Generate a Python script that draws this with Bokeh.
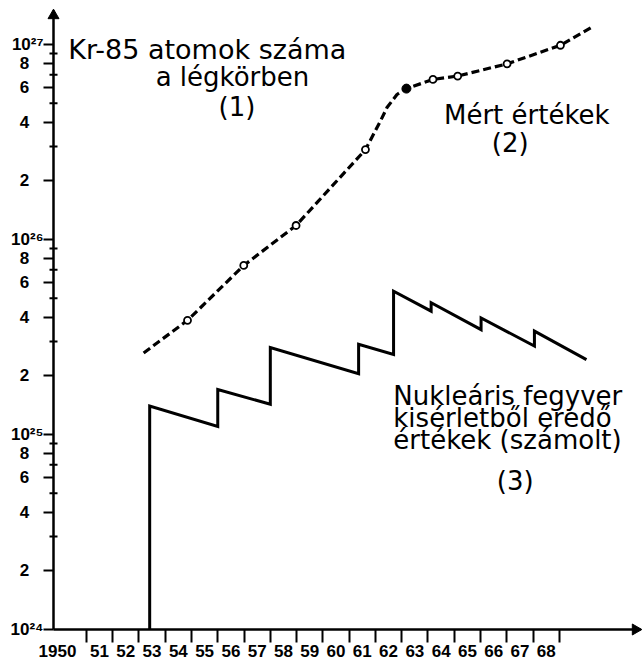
import math
from bokeh.plotting import figure
from bokeh.models import FixedTicker, Range1d, Label
from bokeh.embed import file_html
from bokeh.resources import INLINE

# ---- data ----
# calculated values from nuclear weapon tests (sawtooth)
sawtooth_years = [1953.41, 1953.41, 1956.0, 1956.0, 1958.0, 1958.0, 1961.36, 1961.36,
                  1962.69, 1962.69, 1964.12, 1964.12, 1966.02, 1966.02, 1968.05, 1968.05, 1970.03]
sawtooth_values = [1e24, 1.40e25, 1.10e25, 1.70e25, 1.43e25, 2.79e25, 2.05e25, 2.90e25,
                   2.57e25, 5.43e25, 4.29e25, 4.74e25, 3.45e25, 3.96e25, 2.84e25, 3.39e25, 2.42e25]

# measured values (dashed curve)
measured_curve_years = [1953.18, 1954.85, 1956.99, 1958.98, 1961.62, 1962.19, 1962.44, 1962.82,
                        1963.18, 1964.19, 1965.13, 1967.01, 1969.04, 1970.20]
measured_curve_values = [2.62e25, 3.85e25, 7.36e25, 1.18e26, 2.89e26, 4.05e26, 4.75e26, 5.54e26,
                         5.94e26, 6.62e26, 6.89e26, 7.96e26, 9.91e26, 1.22e27]
measured_point_years = [1954.85, 1956.99, 1958.98, 1961.62, 1964.19, 1965.13, 1967.01, 1969.04]
measured_point_values = [3.85e25, 7.36e25, 1.18e26, 2.89e26, 6.62e26, 6.89e26, 7.96e26, 9.91e26]
highlight_years = [1963.18]
highlight_values = [5.94e26]

# axes
year_ticks = list(range(1951, 1970))
year_label_years = list(range(1950, 1969))
year_label_texts = ["1950"] + [str(y)[2:] for y in range(1951, 1969)]

y_major_ticks = [1e24, 2e24, 4e24, 6e24, 8e24, 1e25, 2e25, 4e25, 6e25, 8e25,
                 1e26, 2e26, 4e26, 6e26, 8e26, 1e27]
y_major_labels = ["10²⁴", "2", "4", "6", "8", "10²⁵", "2", "4", "6", "8",
                  "10²⁶", "2", "4", "6", "8", "10²⁷"]
y_minor_ticks = [3e24, 5e24, 7e24, 9e24, 3e25, 5e25, 7e25, 9e25, 3e26, 5e26, 7e26, 9e26]

# ---- layout constants ----
W, H = 643, 664
LEFT, BOTTOM = 43, 22          # borders (px)
PX_YEAR, PX_DEC = 26.28, 195.0
AXIS_GAP = 10                  # frame edge -> drawn y axis (px)
TICK_LEN = 13                  # frame bottom -> drawn x axis (px)
X_AXIS_AT = 1949.75            # year where the y axis stands
Y_AXIS_AT = 1e24               # value where the x axis lies
X_START = X_AXIS_AT - AXIS_GAP / PX_YEAR
X_END = X_START + (W - LEFT) / PX_YEAR
frame_h = H - BOTTOM
Y_START = 10 ** (24 - TICK_LEN / PX_DEC)
Y_END = 10 ** (24 + (frame_h - TICK_LEN) / PX_DEC)
X_TIP = X_END - 3 / PX_YEAR
Y_TIP_LOG = 24 + (frame_h - TICK_LEN - 10) / PX_DEC

p = figure(width=W, height=H, output_backend="svg", toolbar_location=None,
           y_axis_type="log",
           x_range=Range1d(X_START, X_END), y_range=Range1d(Y_START, Y_END),
           min_border_left=LEFT, min_border_bottom=BOTTOM, min_border_top=0, min_border_right=0)
p.outline_line_color = None
p.xgrid.visible = False
p.ygrid.visible = False
p.background_fill_color = "white"
p.border_fill_color = "white"

# x axis: ticks at year boundaries, labels centred in each year
label_pos = [1949.9] + [y + 0.5 for y in year_label_years[1:]]
p.xaxis.ticker = FixedTicker(ticks=label_pos, minor_ticks=year_ticks)
p.xaxis.major_label_overrides = {pos: txt for pos, txt in zip(label_pos, year_label_texts)}
p.xaxis.axis_line_color = None
p.xaxis.major_tick_line_color = None
p.xaxis.major_tick_out = 0
p.xaxis.major_tick_in = 0
p.xaxis.minor_tick_out = 0
p.xaxis.minor_tick_in = TICK_LEN
p.xaxis.minor_tick_line_width = 2
p.xaxis.minor_tick_line_color = "black"
p.xaxis.major_label_standoff = 2
p.xaxis.major_label_text_font = "Liberation Sans"
p.xaxis.major_label_text_font_style = "bold"
p.xaxis.major_label_text_font_size = "17px"
p.xaxis.major_label_text_color = "black"

# y axis
pad = "\u2007\u2008"
p.yaxis.ticker = FixedTicker(ticks=y_major_ticks, minor_ticks=[])
p.yaxis.major_label_overrides = {
    t: (lab if lab.startswith("10") else lab + pad) for t, lab in zip(y_major_ticks, y_major_labels)
}
p.yaxis.axis_line_color = None
p.yaxis.major_tick_out = 0
p.yaxis.major_tick_in = AXIS_GAP
p.yaxis.major_tick_line_width = 2
p.yaxis.major_tick_line_color = "black"
p.yaxis.minor_tick_line_color = None
p.yaxis.major_label_standoff = 0
p.yaxis.major_label_text_font = "Liberation Sans"
p.yaxis.major_label_text_font_style = "bold"
p.yaxis.major_label_text_font_size = "17px"
p.yaxis.major_label_text_color = "black"

# drawn axis lines with arrow heads
p.line([X_AXIS_AT, X_TIP], [Y_AXIS_AT, Y_AXIS_AT], line_width=2.5, line_color="black")
p.line([X_AXIS_AT, X_AXIS_AT], [Y_AXIS_AT, 10 ** Y_TIP_LOG], line_width=2.5, line_color="black")
p.scatter([X_TIP - 5 / PX_YEAR], [Y_AXIS_AT], marker="triangle", size=11, angle=-math.pi / 2,
          fill_color="black", line_color="black")
p.scatter([X_AXIS_AT], [10 ** (Y_TIP_LOG - 5 / PX_DEC)], marker="triangle", size=11,
          fill_color="black", line_color="black")
# small minor ticks crossing the y axis
p.scatter([X_AXIS_AT] * len(y_minor_ticks), y_minor_ticks, marker="dash", size=8,
          line_width=2, line_color="black")

# series
p.line(sawtooth_years, sawtooth_values, line_width=3, line_color="black", line_join="miter")
p.line(measured_curve_years, measured_curve_values, line_width=3.2, line_color="black",
       line_dash="8 4")
p.scatter(measured_point_years, measured_point_values, size=7, marker="circle",
          fill_color="white", line_color="black", line_width=1.8)
p.scatter(highlight_years, highlight_values, size=9, marker="circle",
          fill_color="black", line_color="black")

# annotations
FONT = "DejaVu Sans"
def lab(x, y, text, align="center", size="26px"):
    p.add_layout(Label(x=x, y=y, text=text, text_font=FONT, text_font_size=size,
                       text_align=align, text_baseline="alphabetic", text_color="black"))

lab(1955.60, 10 ** 26.974, "Kr-85 atomok száma", size="27px")
lab(1956.56, 10 ** 26.831, "a légkörben")
lab(1956.73, 10 ** 26.682, "(1)")
lab(1967.76, 10 ** 26.641, "Mért értékek")
lab(1967.13, 10 ** 26.497, "(2)")
lab(1962.68, 10 ** 25.195, "Nukleáris fegyver", "left")
lab(1962.68, 10 ** 25.087, "kisérletből eredő", "left")
lab(1962.68, 10 ** 24.974, "értékek (számolt)", "left")
lab(1967.32, 10 ** 24.759, "(3)")

open("out.html", "w").write(file_html(p, INLINE))
